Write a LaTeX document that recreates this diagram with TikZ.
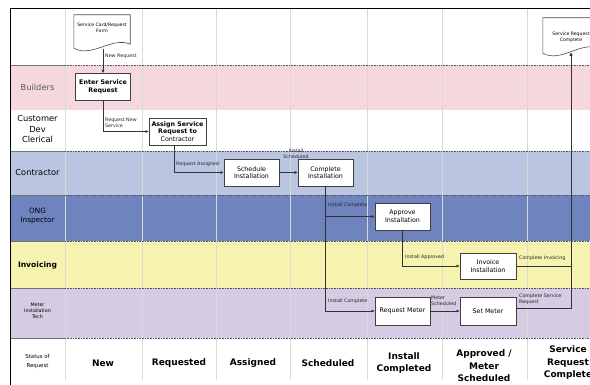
\documentclass[tikz,border=0pt]{standalone}
\usepackage{fontspec}
\setmainfont{DejaVu Sans}
\usetikzlibrary{arrows.meta,calc,shadows}
\definecolor{bpink}{HTML}{F4D8DD}
\definecolor{bltblue}{HTML}{BAC6E1}
\definecolor{bdkblue}{HTML}{6F84BF}
\definecolor{byellow}{HTML}{F6F3B1}
\definecolor{blav}{HTML}{D5CBE2}
\definecolor{gridgray}{HTML}{D9D9D9}
\tikzset{
  proc/.style={draw=black!75, fill=white, line width=0.6pt, minimum width=55pt,
    minimum height=27pt, inner sep=1pt, align=center,
    font=\fontsize{6.3}{7.6}\selectfont,
    drop shadow={shadow xshift=0.8pt, shadow yshift=-0.8pt, opacity=0.35}},
  docbox/.style={inner sep=1pt, align=center, font=\fontsize{4.6}{5.6}\selectfont},
  doclines/.style={draw=black!70, fill=white, line width=0.6pt},
  clabel/.style={font=\fontsize{4.8}{5.6}\selectfont, inner sep=0pt, align=left, text=black!85},
  conn/.style={draw=black!80, line width=0.55pt, -{Latex[length=3.2pt,width=3.2pt]}},
  lane/.style={font=\fontsize{8.3}{10.5}\selectfont, align=center, inner sep=0pt},
  smalllane/.style={font=\fontsize{4.8}{6.2}\selectfont, align=center, inner sep=0pt},
  status/.style={font=\bfseries\fontsize{9}{12.5}\selectfont, align=center, inner sep=0pt},
  gridline/.style={draw=gridgray, line width=0.8pt},
  sepdot/.style={draw=black!65, line width=0.6pt, densely dotted},
  sepsolid/.style={draw=black!55, line width=0.6pt}
}
\begin{document}
\begin{tikzpicture}[x=1pt,y=-1pt]
\useasboundingbox (0,0) rectangle (590,385);
\fill[white] (0,0) rectangle (590,385);
% swimlane bands
\fill[bpink] (10,65) rectangle (590,110);
\fill[bltblue] (10,151) rectangle (590,195);
\fill[bdkblue] (10,195) rectangle (590,241);
\fill[byellow] (10,241) rectangle (590,288);
\fill[blav] (10,288) rectangle (590,338);
% column lines
\foreach \x in {65,142,216,290,367,442,527} \draw[gridline] (\x,9) -- (\x,380);
% row separators
\foreach \y in {65,151,195,241,288,338} {
  \draw[sepdot] (65,\y) -- (590,\y);
  \draw[sepsolid] (10,\y) -- (65,\y);
}
% frame
\draw[line width=1pt] (10,385) -- (10,9) -- (590,9);

% lane labels
\node[lane, text=black!65] (lbuild) at (37.5,87) {Builders};
\node[lane] (lcust) at (37.5,129) {Customer\\Dev\\Clerical};
\node[lane] (lcontr) at (37.5,172) {Contractor};
\node[lane, font=\fontsize{7.3}{9}\selectfont] (long) at (37.5,216) {ONG\\Inspector};
\node[lane, font=\bfseries\fontsize{7.6}{9}\selectfont] (linv) at (37.5,265) {Invoicing};
\node[smalllane] (lmeter) at (37.5,311) {Meter\\Installation\\Tech};
\node[smalllane, font=\fontsize{5.4}{9}\selectfont] (lstat) at (37.5,362) {Status of\\Request};

% status labels
\node[status] (sNew) at (103,363) {New};
\node[status] (sReq) at (179,363) {Requested};
\node[status] (sAsg) at (253,363) {Assigned};
\node[status] (sSch) at (328,363) {Scheduled};
\node[status] (sIns) at (404,363) {Install\\Completed};
\node[status] (sApp) at (484,366) {Approved /\\Meter\\Scheduled};
\node[status] (sSrv) at (568,363) {Service\\Request\\Complete};

% documents
\node[docbox, minimum width=56pt, minimum height=33pt] (doc1) at (102,31.5) {};
\draw[doclines] (doc1.north west) -- (doc1.north east) -- ($(doc1.south east)+(0,-4)$)
  .. controls ($(doc1.south east)+(-18,-12)$) and ($(doc1.south west)+(18,10)$) .. (doc1.south west) -- cycle;
\node[docbox] (doc1t) at (102,28) {Service Card/Request\\Form};
\coordinate (doc1b) at (103,49.5);

\node[docbox, minimum width=55pt, minimum height=35pt] (doc2) at (570.5,35.5) {};
\draw[doclines] (doc2.north west) -- (doc2.north east) -- ($(doc2.south east)+(0,-5)$)
  .. controls ($(doc2.south east)+(-18,-12)$) and ($(doc2.south west)+(18,10)$) .. (doc2.south west) -- cycle;
\node[docbox] (doc2t) at (571,37) {Service Request\\Complete};
\coordinate (doc2in) at (571,52.5);

% process boxes
\node[proc, font=\bfseries\fontsize{6.3}{7.6}\selectfont] (enter) at (103,87) {Enter Service\\Request};
\node[proc, minimum width=57pt] (assign) at (177.5,131.5) {\textbf{Assign Service}\\\textbf{Request to}\\Contractor};
\node[proc] (sched) at (251.5,172.5) {Schedule\\Installation};
\node[proc] (compl) at (325.5,172.5) {Complete\\Installation};
\node[proc] (approve) at (402.5,216.5) {Approve\\Installation};
\node[proc, minimum width=56pt, minimum height=26pt] (invoice) at (488,266) {Invoice\\Installation};
\node[proc, minimum height=28pt] (reqmeter) at (402.5,311) {Request Meter};
\node[proc, minimum width=56pt, minimum height=28pt] (setmeter) at (488,311) {Set Meter};

% connectors
\draw[conn] (doc1b) -- (enter.north);
\node[clabel, anchor=west] (l1) at (105,56) {New Request};

\draw[conn] (enter.south) |- (assign.west);
\node[clabel, anchor=west] (l2) at (105,123) {Request New\\Service};

\draw[conn] ([xshift=-3pt]assign.south) |- (sched.west);
\node[clabel, anchor=west] (l3) at (176,164) {Request Assigned};

\draw[conn] (sched.east) -- (compl.west);
\node[clabel, align=center] (l4) at (296,154) {Install\\Scheduled};

\draw[conn] (compl.south) |- (approve.west);
\node[clabel, anchor=west] (l5) at (328,205) {Install Complete};

\draw[conn] (compl.south) |- (reqmeter.west);
\node[clabel, anchor=west] (l6) at (328,301) {Install Complete};

\draw[conn] (approve.south) |- (invoice.west);
\node[clabel, anchor=west] (l7) at (405,257) {Install Approved};

\draw[conn] (reqmeter.east) -- (setmeter.west);
\node[clabel, anchor=west] (l8) at (431,301) {Meter\\Scheduled};

\coordinate (j1) at (571,266);
\coordinate (j2) at (571,308);
\draw[conn] (invoice.east) -- (j1) -- (doc2in);
\node[clabel, anchor=west] (l9) at (519,258) {Complete Invoicing};

\draw[conn] ([yshift=3pt]setmeter.east) -- (j2) -- (doc2in);
\node[clabel, anchor=west] (l10) at (519,299) {Complete Service\\Request};
\end{tikzpicture}
\end{document}
